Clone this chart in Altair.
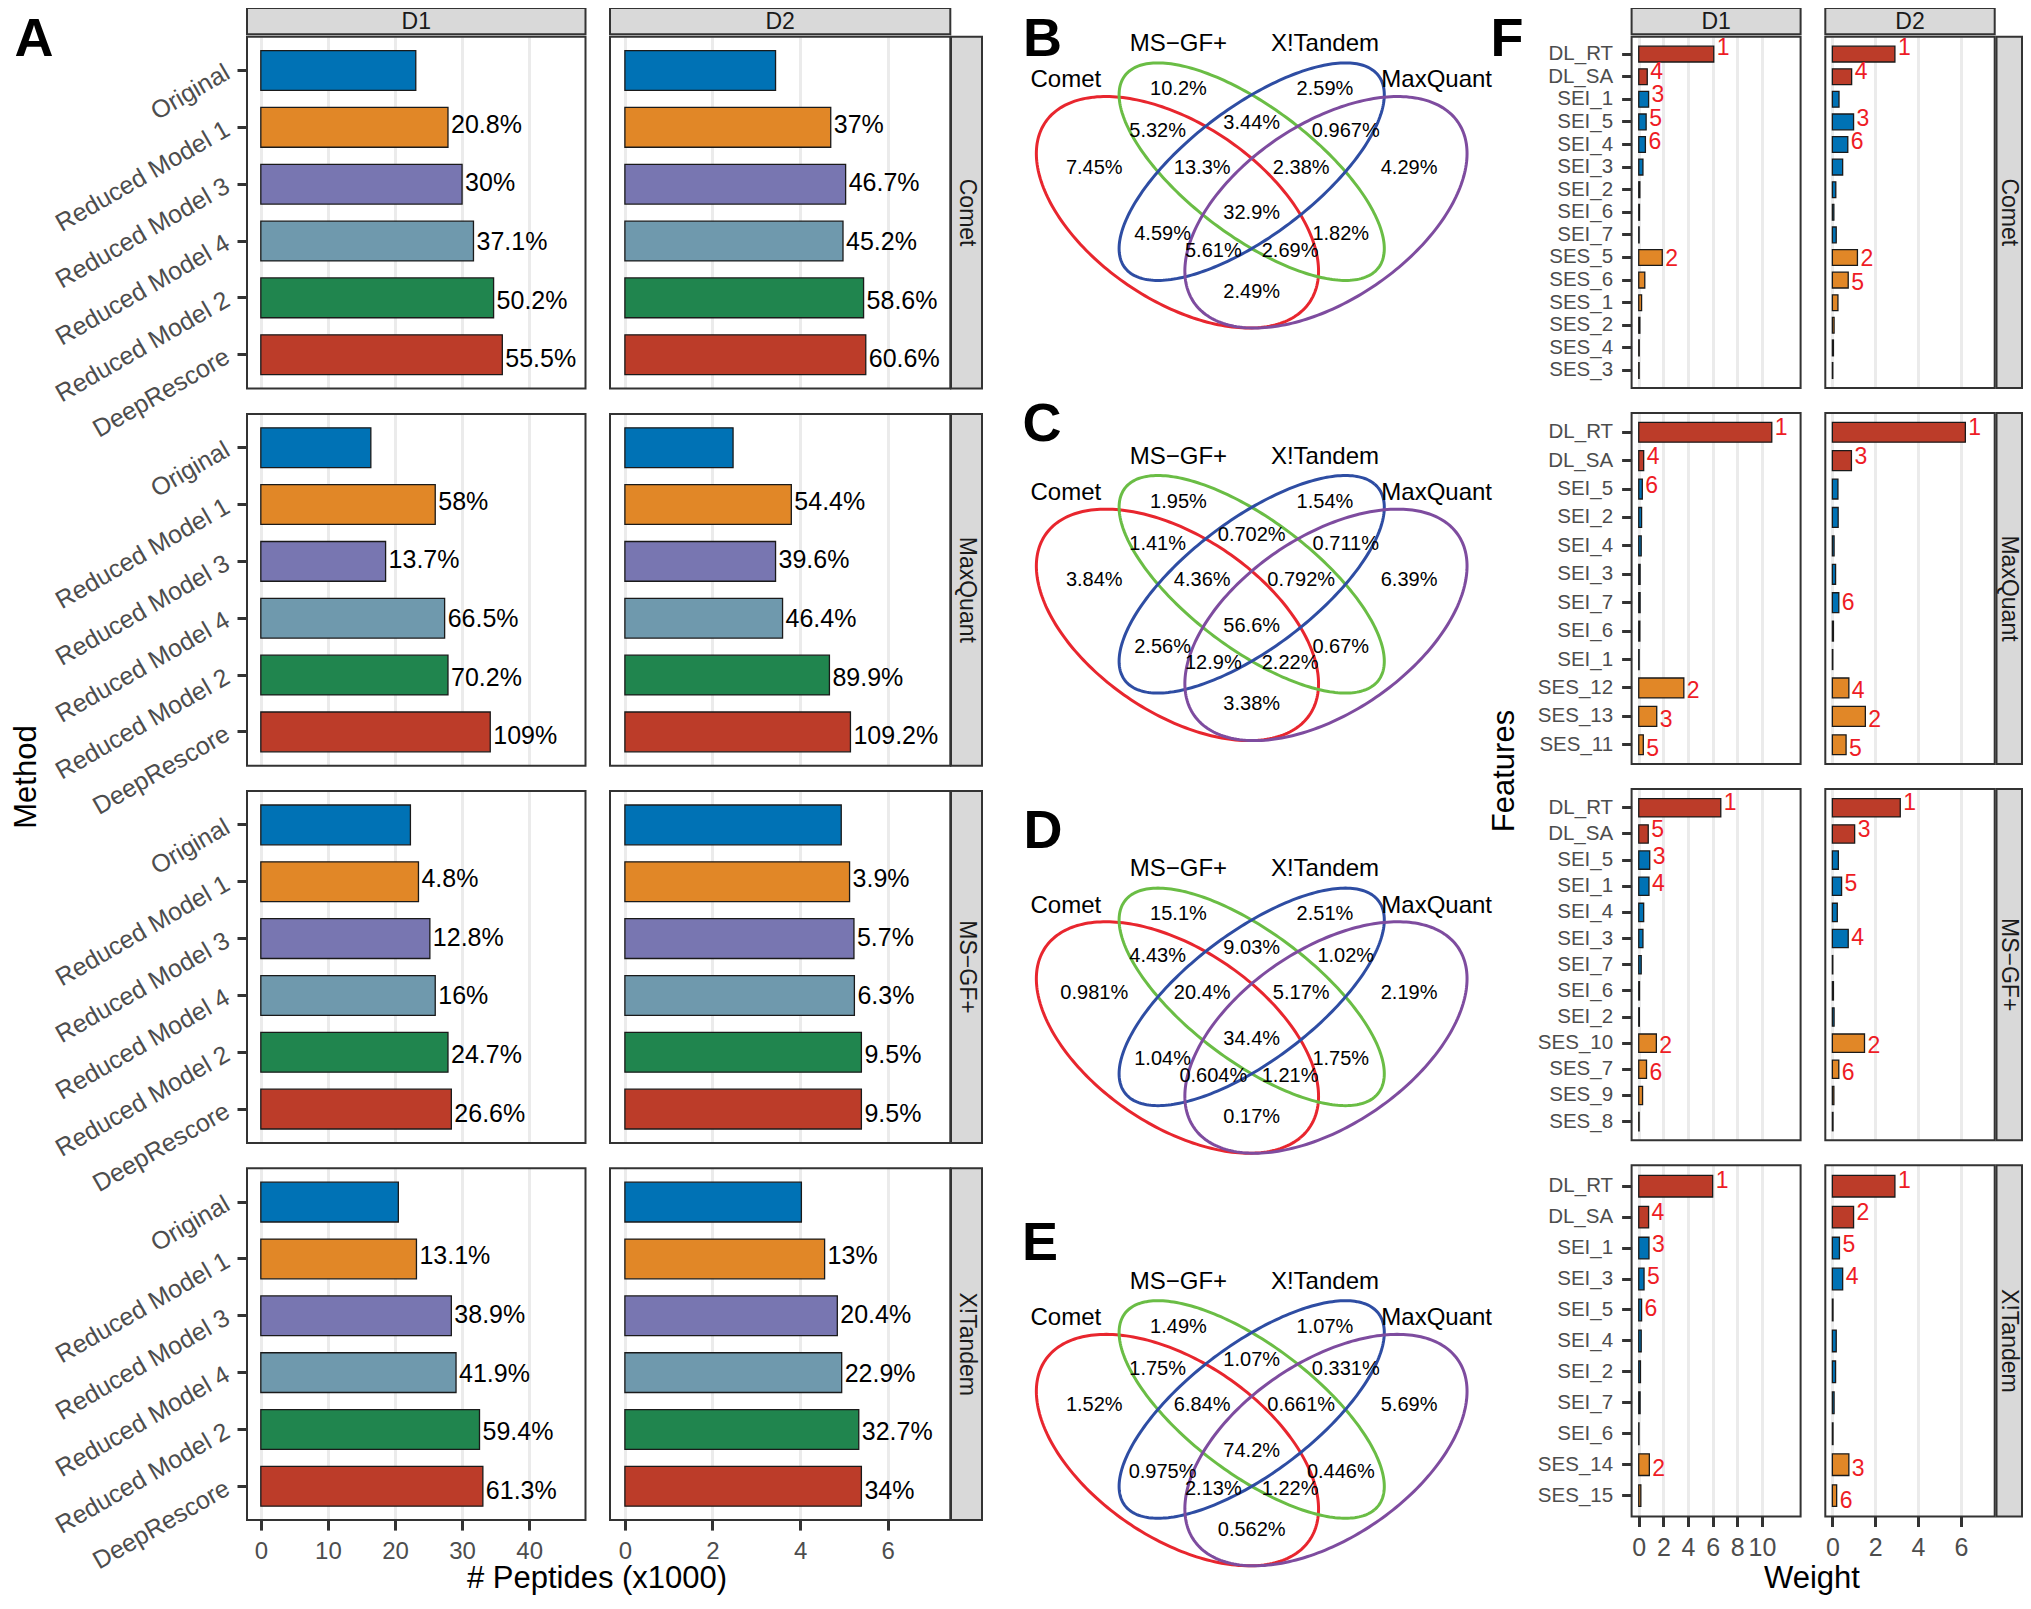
import altair as alt
import numpy as np
import pandas as pd

FONT = "Liberation Sans"
W_VIEW, H_VIEW = 2031, 1597

# ======================= DATA =======================
# ---- Panel A : number of peptides (x1000) ----
METHODS = ["Original", "Reduced Model 1", "Reduced Model 3",
           "Reduced Model 4", "Reduced Model 2", "DeepRescore"]
ENGINES = ["Comet", "MaxQuant", "MS\u2212GF+", "X!Tandem"]
DATASETS = ["D1", "D2"]

COMET_D1_PEPTIDES = [23.1, 27.9, 30.0, 31.7, 34.7, 36.0]
COMET_D1_GAIN = ["", "20.8%", "30%", "37.1%", "50.2%", "55.5%"]
COMET_D2_PEPTIDES = [3.44, 4.70, 5.04, 4.98, 5.45, 5.50]
COMET_D2_GAIN = ["", "37%", "46.7%", "45.2%", "58.6%", "60.6%"]
MAXQUANT_D1_PEPTIDES = [16.4, 26.0, 18.6, 27.4, 27.9, 34.2]
MAXQUANT_D1_GAIN = ["", "58%", "13.7%", "66.5%", "70.2%", "109%"]
MAXQUANT_D2_PEPTIDES = [2.47, 3.80, 3.44, 3.60, 4.67, 5.15]
MAXQUANT_D2_GAIN = ["", "54.4%", "39.6%", "46.4%", "89.9%", "109.2%"]
MSGF_D1_PEPTIDES = [22.3, 23.5, 25.2, 26.0, 27.9, 28.4]
MSGF_D1_GAIN = ["", "4.8%", "12.8%", "16%", "24.7%", "26.6%"]
MSGF_D2_PEPTIDES = [4.94, 5.13, 5.23, 5.24, 5.40, 5.40]
MSGF_D2_GAIN = ["", "3.9%", "5.7%", "6.3%", "9.5%", "9.5%"]
XTANDEM_D1_PEPTIDES = [20.5, 23.2, 28.4, 29.1, 32.6, 33.1]
XTANDEM_D1_GAIN = ["", "13.1%", "38.9%", "41.9%", "59.4%", "61.3%"]
XTANDEM_D2_PEPTIDES = [4.03, 4.56, 4.85, 4.95, 5.34, 5.40]
XTANDEM_D2_GAIN = ["", "13%", "20.4%", "22.9%", "32.7%", "34%"]

# ---- Panels B-E : Venn region percentages ----
VENN_SETS = ["Comet", "MS\u2212GF+", "X!Tandem", "MaxQuant"]
VENN_REGIONS = ["Comet", "MS-GF+", "X!Tandem", "MaxQuant", "C&M", "M&X", "X&Q",
                "C&M&X", "M&X&Q", "C&M&X&Q", "C&X", "M&Q", "C&X&Q", "C&M&Q", "C&Q"]
VENN_B = [7.45, 10.2, 2.59, 4.29, 5.32, 3.44, 0.967, 13.3, 2.38, 32.9, 4.59, 1.82, 5.61, 2.69, 2.49]
VENN_C = [3.84, 1.95, 1.54, 6.39, 1.41, 0.702, 0.711, 4.36, 0.792, 56.6, 2.56, 0.67, 12.9, 2.22, 3.38]
VENN_D = [0.981, 15.1, 2.51, 2.19, 4.43, 9.03, 1.02, 20.4, 5.17, 34.4, 1.04, 1.75, 0.604, 1.21, 0.17]
VENN_E = [1.52, 1.49, 1.07, 5.69, 1.75, 1.07, 0.331, 6.84, 0.661, 74.2, 0.975, 0.446, 2.13, 1.22, 0.562]

# ---- Panel F : feature weights ----
COMET_FEATURES = ["DL_RT", "DL_SA", "SEI_1", "SEI_5", "SEI_4", "SEI_3", "SEI_2", "SEI_6",
                  "SEI_7", "SES_5", "SES_6", "SES_1", "SES_2", "SES_4", "SES_3"]
COMET_D1_WEIGHT = [6.09, 0.69, 0.80, 0.60, 0.54, 0.34, 0.09, 0.06, 0.03, 1.91, 0.49, 0.23, 0.09, 0.04, 0.03]
COMET_D1_RANK = ["1", "4", "3", "5", "6", "", "", "", "", "2", "", "", "", "", ""]
COMET_D2_WEIGHT = [2.92, 0.90, 0.31, 0.99, 0.72, 0.48, 0.16, 0.07, 0.18, 1.17, 0.74, 0.26, 0.08, 0.05, 0.02]
COMET_D2_RANK = ["1", "4", "", "3", "6", "", "", "", "", "2", "5", "", "", "", ""]

MAXQUANT_FEATURES = ["DL_RT", "DL_SA", "SEI_5", "SEI_2", "SEI_4", "SEI_3", "SEI_7", "SEI_6",
                     "SEI_1", "SES_12", "SES_13", "SES_11"]
MAXQUANT_D1_WEIGHT = [10.8, 0.40, 0.29, 0.23, 0.20, 0.11, 0.11, 0.09, 0.03, 3.66, 1.46, 0.37]
MAXQUANT_D1_RANK = ["1", "4", "6", "", "", "", "", "", "", "2", "3", "5"]
MAXQUANT_D2_WEIGHT = [6.21, 0.89, 0.26, 0.27, 0.08, 0.15, 0.30, 0.05, 0.02, 0.77, 1.54, 0.64]
MAXQUANT_D2_RANK = ["1", "3", "", "", "", "", "6", "", "", "4", "2", "5"]

MSGF_FEATURES = ["DL_RT", "DL_SA", "SEI_5", "SEI_1", "SEI_4", "SEI_3", "SEI_7", "SEI_6",
                 "SEI_2", "SES_10", "SES_7", "SES_9", "SES_8"]
MSGF_D1_WEIGHT = [6.66, 0.77, 0.89, 0.83, 0.40, 0.34, 0.20, 0.06, 0.05, 1.43, 0.63, 0.31, 0.03]
MSGF_D1_RANK = ["1", "5", "3", "4", "", "", "", "", "", "2", "6", "", ""]
MSGF_D2_WEIGHT = [3.17, 1.04, 0.28, 0.43, 0.23, 0.74, 0.02, 0.05, 0.08, 1.50, 0.30, 0.07, 0.03]
MSGF_D2_RANK = ["1", "3", "", "5", "", "4", "", "", "", "2", "6", "", ""]

XTANDEM_FEATURES = ["DL_RT", "DL_SA", "SEI_1", "SEI_3", "SEI_5", "SEI_4", "SEI_2", "SEI_7",
                    "SEI_6", "SES_14", "SES_15"]
XTANDEM_D1_WEIGHT = [6.00, 0.80, 0.83, 0.43, 0.23, 0.20, 0.14, 0.11, 0.02, 0.86, 0.17]
XTANDEM_D1_RANK = ["1", "4", "3", "5", "6", "", "", "", "", "2", ""]
XTANDEM_D2_WEIGHT = [2.92, 0.99, 0.33, 0.48, 0.03, 0.18, 0.15, 0.08, 0.03, 0.77, 0.20]
XTANDEM_D2_RANK = ["1", "2", "5", "4", "", "", "", "", "", "3", "6"]

# ======================= STYLE / LAYOUT =======================
METHOD_COLORS = ["#0072B5", "#E18727", "#7876B1", "#6F99AD", "#20854E", "#BC3C29"]
GROUP_COLORS = {"DL": "#BC3C29", "SEI": "#0072B5", "SES": "#E18727"}
VENN_COLORS = ["#E8262E", "#6ABD45", "#2E4DA3", "#7E4C9F"]
RANK_COLOR = "#EE1C25"
DARK = "#333333"
GREY_TXT = "#4D4D4D"

A_X = {"D1": (247.0, 585.5), "D2": (610.0, 950.3)}
A_DOMAIN = {"D1": (-2.06, 48.4), "D2": (-0.34, 7.43)}
A_TICKS = {"D1": [0, 10, 20, 30, 40], "D2": [0, 2, 4, 6]}
A_Y0 = [36.7, 413.9, 791.1, 1168.3]
A_H = 351.8

F_SHIFT = -4.0
F_X = {"D1": (1635.6 + F_SHIFT, 1804.6 + F_SHIFT), "D2": (1829.3 + F_SHIFT, 1998.7 + F_SHIFT)}
F_DOMAIN = {"D1": (-0.58, 13.14), "D2": (-0.33, 7.58)}
F_TICKS = {"D1": [0, 2, 4, 6, 8, 10], "D2": [0, 2, 4, 6]}
F_Y0 = [36.7, 412.9, 789.1, 1165.3]
F_H = 351.2
F_PAD_OUTER = [0.42, 0.33, 0.365, 0.325]
F_STRIP_X = (1996.5, 2022.0)

VENN_X_RANGE = (1004.2, 1499.2)
VENN_Y_BOTTOM = [403.1, 815.7, 1228.3, 1640.9]
VENN_Y_SPAN = 406.0
ELL_CX = [0.35, 0.5, 0.5, 0.65]
ELL_CY = [0.47, 0.57, 0.57, 0.47]
ELL_A = [0.35, 0.35, 0.35, 0.35]
ELL_B = [0.20, 0.145, 0.145, 0.20]
ELL_ROT = [-45, -45, 45, 45]
VENN_LABEL_UX = [0.182, 0.352, 0.648, 0.818, 0.310, 0.5, 0.690, 0.400, 0.600, 0.5,
                 0.320, 0.680, 0.4225, 0.5775, 0.5]
VENN_LABEL_UY = [0.580, 0.773, 0.773, 0.580, 0.670, 0.691, 0.670, 0.580, 0.580, 0.467,
                 0.416, 0.416, 0.375, 0.375, 0.274]
VENN_NAME_UX = [0.1245, 0.352, 0.648, 0.8737]
VENN_NAME_UY = [0.7946, 0.884, 0.884, 0.7946]

A_SERIES = {
    ("Comet", "D1"): (COMET_D1_PEPTIDES, COMET_D1_GAIN),
    ("Comet", "D2"): (COMET_D2_PEPTIDES, COMET_D2_GAIN),
    ("MaxQuant", "D1"): (MAXQUANT_D1_PEPTIDES, MAXQUANT_D1_GAIN),
    ("MaxQuant", "D2"): (MAXQUANT_D2_PEPTIDES, MAXQUANT_D2_GAIN),
    ("MS\u2212GF+", "D1"): (MSGF_D1_PEPTIDES, MSGF_D1_GAIN),
    ("MS\u2212GF+", "D2"): (MSGF_D2_PEPTIDES, MSGF_D2_GAIN),
    ("X!Tandem", "D1"): (XTANDEM_D1_PEPTIDES, XTANDEM_D1_GAIN),
    ("X!Tandem", "D2"): (XTANDEM_D2_PEPTIDES, XTANDEM_D2_GAIN),
}
F_FEATURES = [COMET_FEATURES, MAXQUANT_FEATURES, MSGF_FEATURES, XTANDEM_FEATURES]
F_SERIES = {
    ("Comet", "D1"): (COMET_D1_WEIGHT, COMET_D1_RANK),
    ("Comet", "D2"): (COMET_D2_WEIGHT, COMET_D2_RANK),
    ("MaxQuant", "D1"): (MAXQUANT_D1_WEIGHT, MAXQUANT_D1_RANK),
    ("MaxQuant", "D2"): (MAXQUANT_D2_WEIGHT, MAXQUANT_D2_RANK),
    ("MS\u2212GF+", "D1"): (MSGF_D1_WEIGHT, MSGF_D1_RANK),
    ("MS\u2212GF+", "D2"): (MSGF_D2_WEIGHT, MSGF_D2_RANK),
    ("X!Tandem", "D1"): (XTANDEM_D1_WEIGHT, XTANDEM_D1_RANK),
    ("X!Tandem", "D2"): (XTANDEM_D2_WEIGHT, XTANDEM_D2_RANK),
}
VENN_PANELS = [VENN_B, VENN_C, VENN_D, VENN_E]


def qscale(dom, rng):
    return alt.Scale(domain=list(dom), range=list(rng), nice=False, zero=False)


def panel(df, cats, xdom, xr, yr, pad_outer, ticks, left_axis, bottom_size,
          text_size, text_color, bottom_pad):
    xs = qscale(xdom, xr)
    ys = alt.Scale(domain=cats, range=list(yr), paddingInner=0.3, paddingOuter=pad_outer)
    base = alt.Chart(df)
    grid = base.mark_bar(opacity=0).encode(
        x=alt.X("value:Q", scale=xs,
                axis=alt.Axis(orient="top", values=ticks, grid=True, gridColor="#EBEBEB",
                              gridWidth=3, labels=False, ticks=False, domain=False, title=None)),
        y=alt.Y("cat:N", scale=ys, axis=None))
    xaxis = None
    if bottom_size:
        xaxis = alt.Axis(orient="bottom", offset=yr[1] - H_VIEW, values=ticks, grid=False,
                         domain=False, tickSize=10, tickWidth=3, tickColor=DARK,
                         labelFont=FONT, labelFontSize=bottom_size, labelColor=GREY_TXT,
                         labelPadding=bottom_pad, labelOverlap=False, labelFlush=False,
                         title=None)
    yaxis = None
    if left_axis is not None:
        yaxis = alt.Axis(orient="left", offset=-xr[0], grid=False, domain=False,
                         tickSize=10, tickWidth=3, tickColor=DARK, labelFont=FONT,
                         labelColor=GREY_TXT, labelLimit=0, title=None, **left_axis)
    bars = base.mark_bar(stroke="#1A1A1A", strokeWidth=1.3).encode(
        x=alt.X("value:Q", scale=xs, axis=xaxis),
        y=alt.Y("cat:N", scale=ys, axis=yaxis),
        color=alt.Color("color:N", scale=None))
    text = base.mark_text(align="left", baseline="middle", dx=3, font=FONT,
                          fontSize=text_size, color=text_color).encode(
        x=alt.X("value:Q", scale=xs, axis=None),
        y=alt.Y("cat:N", scale=ys, axis=None),
        text="label:N")
    return grid, bars, text


grid_layers, mark_layers = [], []

# ---- Panel A ----
for r, eng in enumerate(ENGINES):
    for ds in DATASETS:
        vals, gains = A_SERIES[(eng, ds)]
        df = pd.DataFrame({"cat": METHODS, "value": vals, "label": gains,
                           "color": METHOD_COLORS})
        left = None
        if ds == "D1":
            left = dict(labelAngle=330, labelAlign="right", labelBaseline="middle",
                        labelFontSize=25, labelPadding=10)
        g, b, t = panel(df, METHODS, A_DOMAIN[ds], A_X[ds], (A_Y0[r], A_Y0[r] + A_H),
                        0.245, A_TICKS[ds], left, 24 if r == 3 else None, 25, "black", 9)
        grid_layers.append(g)
        mark_layers += [b, t]

# ---- Panel F ----
for r, eng in enumerate(ENGINES):
    feats = F_FEATURES[r]
    for ds in DATASETS:
        w, rk = F_SERIES[(eng, ds)]
        df = pd.DataFrame({"cat": feats, "value": w, "label": rk,
                           "color": [GROUP_COLORS[f.split("_")[0]] for f in feats]})
        left = None
        if ds == "D1":
            left = dict(labelAngle=0, labelAlign="right", labelBaseline="middle",
                        labelFontSize=20.5, labelPadding=9)
        g, b, t = panel(df, feats, F_DOMAIN[ds], F_X[ds], (F_Y0[r], F_Y0[r] + F_H),
                        F_PAD_OUTER[r], F_TICKS[ds], left, 25 if r == 3 else None, 23,
                        RANK_COLOR, 9)
        grid_layers.append(g)
        mark_layers += [b, t]

# ---- frames and strips ----
frames = []
for r in range(4):
    for ds in DATASETS:
        frames.append({"x0": A_X[ds][0], "x1": A_X[ds][1], "y0": A_Y0[r], "y1": A_Y0[r] + A_H})
        frames.append({"x0": F_X[ds][0], "x1": F_X[ds][1], "y0": F_Y0[r], "y1": F_Y0[r] + F_H})
frame_layer = alt.Chart(pd.DataFrame(frames)).mark_rect(
    fillOpacity=0, stroke=DARK, strokeWidth=2).encode(
    x=alt.X("x0:Q", scale=None), x2="x1:Q", y=alt.Y("y0:Q", scale=None), y2="y1:Q")

strips, strip_txt = [], []
for ds in DATASETS:
    for xr in (A_X[ds], F_X[ds]):
        strips.append({"x0": xr[0], "x1": xr[1], "y0": 8.0, "y1": 34.3})
        strip_txt.append({"x": (xr[0] + xr[1]) / 2, "y": 21.5, "t": ds, "a": 0})
for r, eng in enumerate(ENGINES):
    strips.append({"x0": 951.0, "x1": 982.0, "y0": A_Y0[r], "y1": A_Y0[r] + A_H})
    strip_txt.append({"x": 966.5, "y": A_Y0[r] + A_H / 2, "t": eng, "a": 90})
    strips.append({"x0": F_STRIP_X[0], "x1": F_STRIP_X[1], "y0": F_Y0[r], "y1": F_Y0[r] + F_H})
    strip_txt.append({"x": (F_STRIP_X[0] + F_STRIP_X[1]) / 2, "y": F_Y0[r] + F_H / 2,
                      "t": eng, "a": 90})
strip_layer = alt.Chart(pd.DataFrame(strips)).mark_rect(
    fill="#D9D9D9", stroke=DARK, strokeWidth=2).encode(
    x=alt.X("x0:Q", scale=None), x2="x1:Q", y=alt.Y("y0:Q", scale=None), y2="y1:Q")
strip_text_layer = alt.Chart(pd.DataFrame(strip_txt)).mark_text(
    font=FONT, fontSize=23, color="#1A1A1A", align="center", baseline="middle").encode(
    x=alt.X("x:Q", scale=None), y=alt.Y("y:Q", scale=None), text="t:N",
    angle=alt.Angle("a:Q", scale=None))

# ---- Venn diagrams ----
tt = np.linspace(0, 2 * np.pi, 241)
ell_rows = []
for s, name in enumerate(VENN_SETS):
    th = np.deg2rad(ELL_ROT[s])
    ex = ELL_CX[s] + ELL_A[s] * np.cos(tt) * np.cos(th) - ELL_B[s] * np.sin(tt) * np.sin(th)
    ey = ELL_CY[s] + ELL_A[s] * np.cos(tt) * np.sin(th) + ELL_B[s] * np.sin(tt) * np.cos(th)
    for i in range(len(tt)):
        ell_rows.append({"set": name, "i": i, "ux": ex[i], "uy": ey[i], "color": VENN_COLORS[s]})
ell_df = pd.DataFrame(ell_rows)
names_df = pd.DataFrame({"name": VENN_SETS, "ux": VENN_NAME_UX, "uy": VENN_NAME_UY})

venn_layers = []
for k, vals in enumerate(VENN_PANELS):
    vx = qscale((0, 1), VENN_X_RANGE)
    vy = qscale((0, 1), (VENN_Y_BOTTOM[k], VENN_Y_BOTTOM[k] - VENN_Y_SPAN))
    venn_layers.append(alt.Chart(ell_df).mark_line(strokeWidth=3).encode(
        x=alt.X("ux:Q", scale=vx, axis=None), y=alt.Y("uy:Q", scale=vy, axis=None),
        detail="set:N", order="i:Q", color=alt.Color("color:N", scale=None)))
    lab_df = pd.DataFrame({"region": VENN_REGIONS, "pct": [f"{v:g}%" for v in vals],
                           "ux": VENN_LABEL_UX, "uy": VENN_LABEL_UY})
    venn_layers.append(alt.Chart(lab_df).mark_text(
        font=FONT, fontSize=20, color="black", align="center", baseline="middle").encode(
        x=alt.X("ux:Q", scale=vx, axis=None), y=alt.Y("uy:Q", scale=vy, axis=None),
        text="pct:N"))
    venn_layers.append(alt.Chart(names_df).mark_text(
        font=FONT, fontSize=24, color="black", align="center", baseline="middle").encode(
        x=alt.X("ux:Q", scale=vx, axis=None), y=alt.Y("uy:Q", scale=vy, axis=None),
        text="name:N"))

# ---- titles and panel letters ----
titles = pd.DataFrame({
    "t": ["Method", "# Peptides (x1000)", "Features", "Weight"],
    "x": [27.0, 597.0, 1505.0, 1812.0],
    "y": [777.0, 1579.0, 771.0, 1579.0],
    "a": [270, 0, 270, 0]})
title_layer = alt.Chart(titles).mark_text(
    font=FONT, fontSize=31, color="black", align="center", baseline="middle").encode(
    x=alt.X("x:Q", scale=None), y=alt.Y("y:Q", scale=None), text="t:N",
    angle=alt.Angle("a:Q", scale=None))
letters = pd.DataFrame({
    "t": ["A", "B", "C", "D", "E", "F"],
    "x": [34.0, 1042.5, 1042.0, 1043.0, 1040.0, 1507.0],
    "y": [40.0, 40.0, 425.0, 832.0, 1244.0, 40.0]})
letter_layer = alt.Chart(letters).mark_text(
    font=FONT, fontSize=54, fontWeight="bold", color="black", align="center",
    baseline="middle").encode(
    x=alt.X("x:Q", scale=None), y=alt.Y("y:Q", scale=None), text="t:N")

layers = grid_layers + mark_layers + [frame_layer, strip_layer, strip_text_layer] + \
    venn_layers + [title_layer, letter_layer]

chart = alt.layer(*layers).properties(
    width=W_VIEW, height=H_VIEW,
    autosize=alt.AutoSizeParams(type="none"),
    padding={"left": -8, "top": -8, "right": -8, "bottom": 0},
).resolve_scale(x="independent", y="independent").configure(
    font=FONT).configure_view(stroke=None, strokeWidth=0)

chart.save("out.html", embed_options={"renderer": "svg", "actions": False})
